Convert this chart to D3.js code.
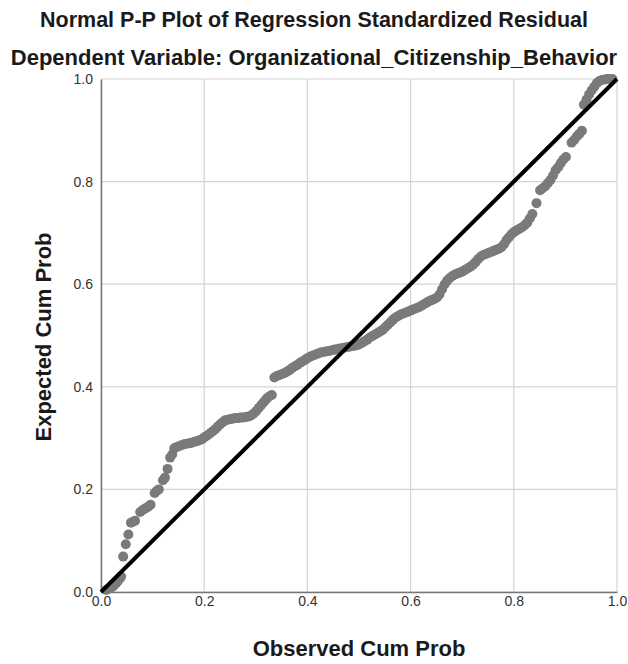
<!DOCTYPE html>
<html>
<head>
<meta charset="utf-8">
<script src="https://cdn.jsdelivr.net/npm/d3@7"></script>
<style>
  body { margin: 0; background: #fff; }
  svg { font-family: "Liberation Sans", Arial, sans-serif; }
</style>
</head>
<body>
<div id="chart"></div>
<script>
const titleText = "Normal P-P Plot of Regression Standardized Residual";
const subtitleText = "Dependent Variable: Organizational_Citizenship_Behavior";
const xLabel = "Observed Cum Prob";
const yLabel = "Expected Cum Prob";
const tickValues = [0, 0.2, 0.4, 0.6, 0.8, 1.0];

// observed / expected cumulative probabilities
const observed = [
  0.010, 0.014, 0.018, 0.021, 0.024, 0.027, 0.030, 0.033, 0.036, 0.039,
  0.043, 0.048, 0.053, 0.058, 0.062, 0.066, 0.076, 0.081, 0.086, 0.091,
  0.096, 0.104, 0.108, 0.112, 0.120, 0.124, 0.129, 0.134, 0.138, 0.142,
  0.146, 0.151, 0.156, 0.161, 0.166, 0.171, 0.176, 0.181, 0.186, 0.191,
  0.196, 0.201, 0.206, 0.211, 0.216, 0.221, 0.226, 0.231, 0.236, 0.241,
  0.246, 0.251, 0.256, 0.261, 0.266, 0.271, 0.276, 0.281, 0.286, 0.291,
  0.296, 0.301, 0.306, 0.311, 0.316, 0.321, 0.326, 0.331, 0.336, 0.341,
  0.346, 0.351, 0.356, 0.361, 0.366, 0.371, 0.376, 0.381, 0.386, 0.391,
  0.396, 0.401, 0.406, 0.411, 0.416, 0.421, 0.426, 0.431, 0.436, 0.441,
  0.446, 0.451, 0.456, 0.461, 0.466, 0.471, 0.476, 0.481, 0.486, 0.491,
  0.496, 0.501, 0.506, 0.511, 0.516, 0.521, 0.526, 0.531, 0.536, 0.541,
  0.546, 0.551, 0.556, 0.561, 0.566, 0.571, 0.576, 0.581, 0.586, 0.591,
  0.596, 0.601, 0.606, 0.611, 0.616, 0.621, 0.626, 0.631, 0.636, 0.641,
  0.646, 0.651, 0.656, 0.661, 0.666, 0.671, 0.676, 0.681, 0.686, 0.691,
  0.696, 0.701, 0.706, 0.711, 0.716, 0.721, 0.726, 0.731, 0.736, 0.741,
  0.746, 0.751, 0.756, 0.761, 0.766, 0.771, 0.776, 0.781, 0.786, 0.791,
  0.796, 0.801, 0.806, 0.811, 0.816, 0.821, 0.826, 0.831, 0.836, 0.844,
  0.851, 0.856, 0.861, 0.866, 0.871, 0.876, 0.881, 0.886, 0.891, 0.896,
  0.901, 0.912, 0.917, 0.922, 0.927, 0.932, 0.936, 0.941, 0.946, 0.951,
  0.956, 0.961, 0.966, 0.971, 0.976, 0.981, 0.986, 0.991
];
const expected = [
  0.004, 0.006, 0.008, 0.010, 0.012, 0.015, 0.018, 0.022, 0.026, 0.030,
  0.069, 0.093, 0.112, 0.135, 0.137, 0.139, 0.156, 0.160, 0.163, 0.166,
  0.170, 0.193, 0.197, 0.200, 0.218, 0.223, 0.240, 0.262, 0.268, 0.280,
  0.282, 0.284, 0.286, 0.288, 0.289, 0.290, 0.291, 0.293, 0.294, 0.296,
  0.298, 0.302, 0.305, 0.309, 0.313, 0.317, 0.322, 0.327, 0.331, 0.335,
  0.336, 0.337, 0.338, 0.339, 0.339, 0.340, 0.340, 0.341, 0.342, 0.344,
  0.348, 0.353, 0.359, 0.365, 0.371, 0.377, 0.381, 0.384, 0.418, 0.421,
  0.423, 0.425, 0.427, 0.430, 0.433, 0.437, 0.440, 0.443, 0.447, 0.450,
  0.453, 0.456, 0.459, 0.461, 0.463, 0.465, 0.467, 0.468, 0.469, 0.470,
  0.471, 0.472, 0.473, 0.474, 0.475, 0.476, 0.477, 0.478, 0.479, 0.480,
  0.481, 0.483, 0.486, 0.489, 0.492, 0.496, 0.499, 0.502, 0.505, 0.508,
  0.511, 0.516, 0.521, 0.526, 0.531, 0.535, 0.538, 0.541, 0.543, 0.545,
  0.547, 0.549, 0.551, 0.553, 0.555, 0.558, 0.561, 0.564, 0.567, 0.569,
  0.571, 0.574, 0.580, 0.590, 0.600, 0.607, 0.612, 0.616, 0.619, 0.621,
  0.623, 0.625, 0.628, 0.631, 0.634, 0.638, 0.643, 0.649, 0.654, 0.657,
  0.659, 0.661, 0.663, 0.665, 0.667, 0.669, 0.672, 0.678, 0.686, 0.692,
  0.698, 0.702, 0.705, 0.708, 0.711, 0.715, 0.720, 0.728, 0.737, 0.758,
  0.783, 0.787, 0.791, 0.797, 0.803, 0.812, 0.822, 0.828, 0.836, 0.843,
  0.848, 0.876, 0.881, 0.888, 0.893, 0.899, 0.950, 0.960, 0.970, 0.978,
  0.985, 0.992, 0.996, 0.998, 0.999, 1.000, 1.000, 1.000
];

const width = 628, height = 664;
const margin = { left: 101, right: 11, top: 79, bottom: 72 };

const svg = d3.select("#chart")
  .append("svg")
  .attr("width", width)
  .attr("height", height);

const x = d3.scaleLinear().domain([0, 1]).range([margin.left, width - margin.right]);
const y = d3.scaleLinear().domain([0, 1]).range([height - margin.bottom, margin.top]);

// Titles
svg.append("text")
  .attr("x", 314).attr("y", 27)
  .attr("text-anchor", "middle")
  .attr("font-size", 21.5).attr("font-weight", "bold").attr("fill", "#1a1a1a")
  .text(titleText);

svg.append("text")
  .attr("x", 314).attr("y", 65)
  .attr("text-anchor", "middle")
  .attr("font-size", 22).attr("font-weight", "bold").attr("fill", "#1a1a1a")
  .text(subtitleText);

// Grid
svg.append("g")
  .selectAll("line.gx")
  .data(tickValues)
  .enter()
  .append("line")
  .attr("x1", d => x(d)).attr("x2", d => x(d))
  .attr("y1", y(0)).attr("y2", y(1))
  .attr("stroke", "#d4d4d4").attr("stroke-width", 1.2);

svg.append("g")
  .selectAll("line.gy")
  .data(tickValues)
  .enter()
  .append("line")
  .attr("x1", x(0)).attr("x2", x(1))
  .attr("y1", d => y(d)).attr("y2", d => y(d))
  .attr("stroke", "#d4d4d4").attr("stroke-width", 1.2);

// Axes
const xAxis = svg.append("g")
  .attr("transform", `translate(0,${y(0)})`)
  .call(d3.axisBottom(x).tickValues(tickValues).tickFormat(d3.format(".1f")).tickSize(0).tickPadding(4));

const yAxis = svg.append("g")
  .attr("transform", `translate(${x(0)},0)`)
  .call(d3.axisLeft(y).tickValues(tickValues).tickFormat(d3.format(".1f")).tickSize(0).tickPadding(8));

[xAxis, yAxis].forEach(g => {
  g.select(".domain").attr("stroke", "#777").attr("stroke-width", 1.5);
  g.selectAll("text")
    .attr("font-size", 14)
    .attr("fill", "#333")
    .attr("font-family", "Liberation Sans, Arial, sans-serif");
});

// Points
svg.append("g")
  .selectAll("circle")
  .data(observed.map((o, i) => ({ o, e: expected[i] })))
  .enter()
  .append("circle")
  .attr("cx", d => x(d.o))
  .attr("cy", d => y(d.e))
  .attr("r", 5)
  .attr("fill", "#7a7a7a");

// Reference line
svg.append("line")
  .attr("x1", x(0)).attr("y1", y(0))
  .attr("x2", x(1)).attr("y2", y(1))
  .attr("stroke", "#000")
  .attr("stroke-width", 4);

// Axis titles
svg.append("text")
  .attr("x", 359).attr("y", 656)
  .attr("text-anchor", "middle")
  .attr("font-size", 22).attr("font-weight", "bold").attr("fill", "#1a1a1a")
  .text(xLabel);

svg.append("text")
  .attr("transform", `translate(51,337) rotate(-90)`)
  .attr("text-anchor", "middle")
  .attr("font-size", 22).attr("font-weight", "bold").attr("fill", "#1a1a1a")
  .text(yLabel);
</script>
</body>
</html>
